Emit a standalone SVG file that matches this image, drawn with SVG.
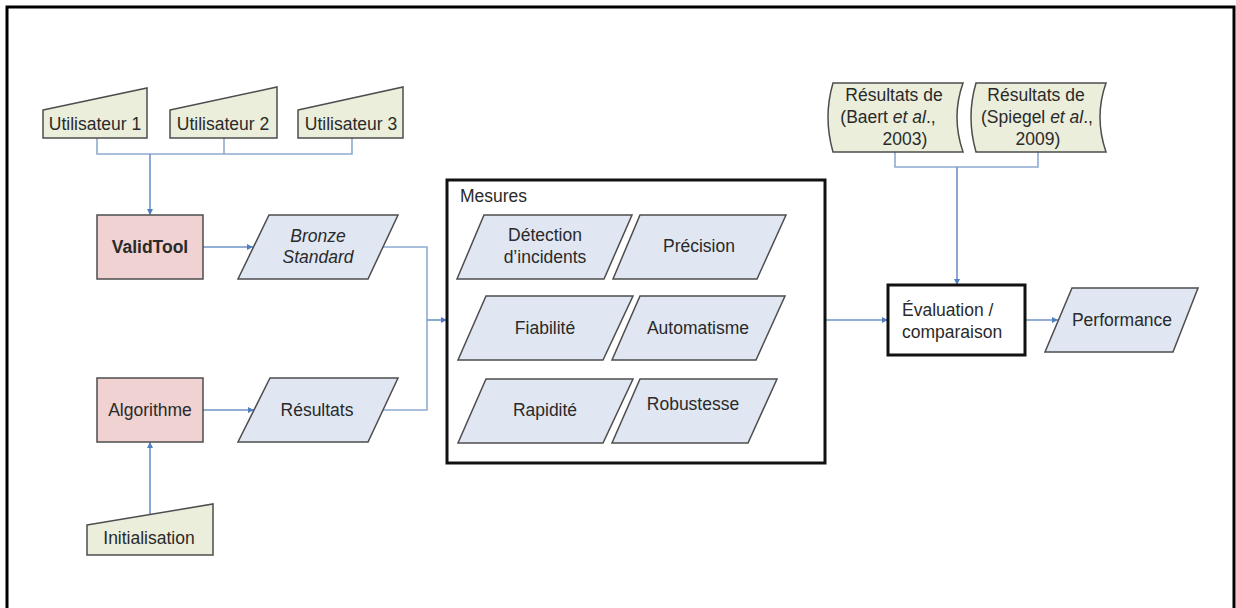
<svg xmlns="http://www.w3.org/2000/svg" width="1236" height="608" viewBox="0 0 1236 608">
<style>
text{font-family:"Liberation Sans",Arial,sans-serif;font-size:17.5px;fill:#2a2a2a;dominant-baseline:central;text-anchor:middle}
.inp{fill:#ebeedb;stroke:#4d4d4d;stroke-width:1.5}
.proc{fill:#efd2d1;stroke:#4d4d4d;stroke-width:1.5}
.data{fill:#e0e7f2;stroke:#4d4d4d;stroke-width:1.5}
.box{fill:#fff;stroke:#111;stroke-width:3}
.ln{fill:none;stroke:#8eaad0;stroke-width:1.6}
.ar{fill:none;stroke:#6f93c6;stroke-width:1.6;marker-end:url(#ah)}
</style>
<defs>
<marker id="ah" viewBox="0 0 10 10" refX="10" refY="5" markerWidth="6" markerHeight="6" orient="auto" markerUnits="userSpaceOnUse">
<path d="M0,0 L10,5 L0,10 Z" fill="#4f7fbf"/>
</marker>
</defs>
<rect x="7" y="7" width="1227" height="612" fill="#fff" stroke="#000" stroke-width="3"/>

<g id="connectors">
<polyline class="ln" points="97,138 97,154 352,154 352,138"/>
<line class="ln" x1="224" y1="138" x2="224" y2="154"/>
<line class="ar" x1="150" y1="154" x2="150" y2="215"/>
<line class="ar" x1="203" y1="247" x2="253" y2="247"/>
<line class="ar" x1="203" y1="410" x2="254" y2="410"/>
<polyline class="ln" points="383,247 427,247 427,410 383,410"/>
<line class="ar" x1="427" y1="320" x2="447" y2="320"/>
<line class="ar" x1="150" y1="514" x2="150" y2="442"/>
<polyline class="ln" points="771,247 801,247 801,411 762,411"/>
<line class="ar" x1="801" y1="320" x2="888" y2="320"/>
<polyline class="ln" points="895,152 895,167 1038,167 1038,152"/>
<line class="ar" x1="957" y1="167" x2="957" y2="285"/>
<line class="ar" x1="1025" y1="320" x2="1058" y2="320"/>
</g>

<g id="utilisateur1"><polygon class="inp" points="43,110 147,88 147,138 43,138"/><text x="95" y="124">Utilisateur 1</text></g>
<g id="utilisateur2"><polygon class="inp" points="170,110 277,87 277,138 170,138"/><text x="223" y="124">Utilisateur 2</text></g>
<g id="utilisateur3"><polygon class="inp" points="298,110 403,87 403,138 298,138"/><text x="351" y="124">Utilisateur 3</text></g>

<g id="validtool"><rect class="proc" x="97" y="215" width="106" height="64"/><text x="150" y="247" font-weight="bold">ValidTool</text></g>
<g id="algorithme"><rect class="proc" x="97" y="378" width="106" height="64"/><text x="150" y="410">Algorithme</text></g>
<g id="initialisation"><polygon class="inp" points="87,525 213,504 213,555 87,555"/><text x="149" y="538">Initialisation</text></g>

<g id="bronze"><polygon class="data" points="269,215 398,215 368,279 238,279"/><text x="318" y="236" font-style="italic">Bronze</text><text x="318" y="257" font-style="italic">Standard</text></g>
<g id="resultats"><polygon class="data" points="270,378 398,378 368,442 238,442"/><text x="317" y="410">Résultats</text></g>

<g id="mesures">
<rect class="box" x="447" y="180" width="378" height="283"/>
<text x="460" y="196" style="text-anchor:start">Mesures</text>
</g>
<g id="detection"><polygon class="data" points="484,215 632,215 604,279 457,279"/><text x="545" y="235">Détection</text><text x="545" y="257">d’incidents</text></g>
<g id="precision"><polygon class="data" points="640,215 786,215 757,279 613,279"/><text x="699" y="246">Précision</text></g>
<g id="fiabilite"><polygon class="data" points="486,296 633,296 603,360 458,360"/><text x="545" y="328">Fiabilité</text></g>
<g id="automatisme"><polygon class="data" points="640,296 785,296 756,360 612,360"/><text x="698" y="328">Automatisme</text></g>
<g id="rapidite"><polygon class="data" points="486,379 633,379 603,443 458,443"/><text x="545" y="410">Rapidité</text></g>
<g id="robustesse"><polygon class="data" points="640,379 777,379 748,443 612,443"/><text x="693" y="404">Robustesse</text></g>

<g id="baert"><path class="inp" d="M833,83 L963,83 Q951,117 963,152 L833,152 Q823,117 833,83 Z"/><text x="894" y="95">Résultats de</text><text x="888" y="117">(Baert <tspan font-style="italic">et al</tspan>.,</text><text x="905" y="139">2003)</text></g>
<g id="spiegel"><path class="inp" d="M976,83 L1106,83 Q1094,117 1106,152 L976,152 Q966,117 976,83 Z"/><text x="1036" y="95">Résultats de</text><text x="1037" y="117">(Spiegel <tspan font-style="italic">et al</tspan>.,</text><text x="1038" y="139">2009)</text></g>

<g id="evaluation"><rect class="box" x="888" y="285" width="137" height="70"/><text x="902" y="310" style="text-anchor:start">Évaluation /</text><text x="902" y="332" style="text-anchor:start">comparaison</text></g>
<g id="performance"><polygon class="data" points="1072,288 1198,288 1173,352 1045,352"/><text x="1122" y="320">Performance</text></g>
</svg>
